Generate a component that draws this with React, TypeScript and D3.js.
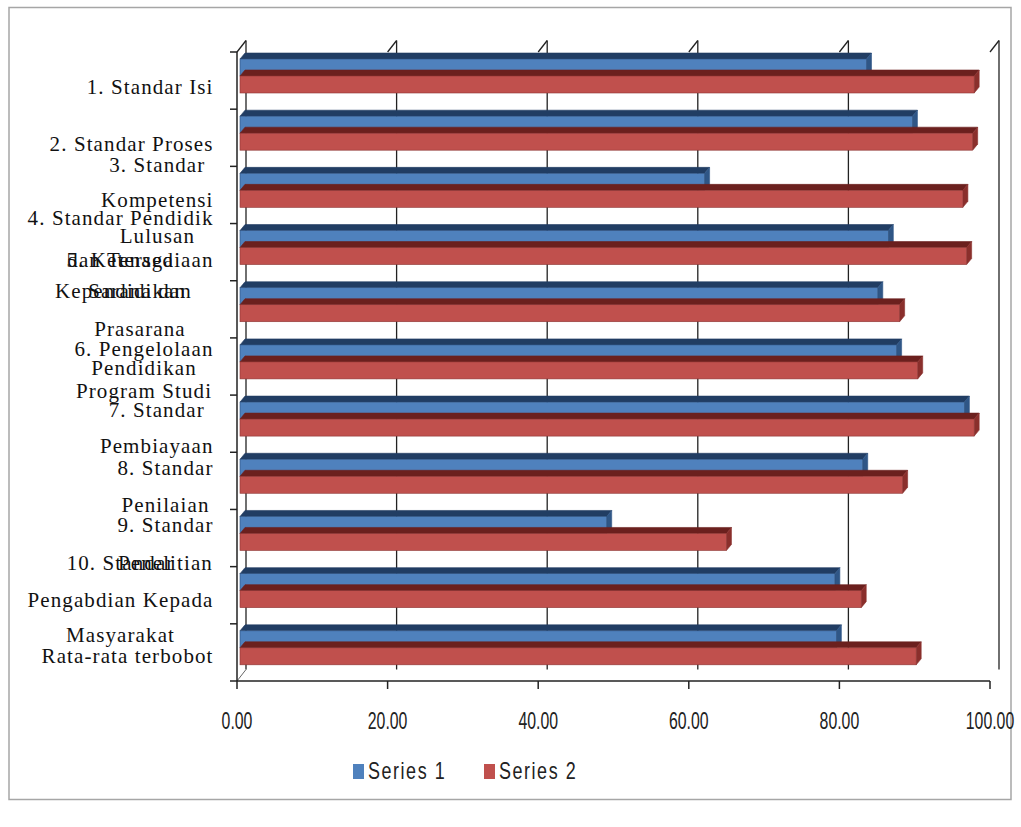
import React from "react";
import * as d3 from "d3";

// ---------- data ----------
const categoryLines: string[][] = [
  ["1. Standar Isi"],
  ["2. Standar Proses"],
  ["3. Standar", "Kompetensi", "Lulusan"],
  ["4. Standar Pendidik", "dan Tenaga", "Kependidikan"],
  ["5. Ketersediaan", "Sarana dan", "Prasarana"],
  ["6. Pengelolaan", "Pendidikan", "Program Studi"],
  ["7. Standar", "Pembiayaan"],
  ["8. Standar", "Penilaian"],
  ["9. Standar", "Penelitian"],
  ["10. Standar", "Pengabdian Kepada", "Masyarakat"],
  ["Rata-rata terbobot"],
];
const series1: number[] = [83.2, 89.3, 61.7, 86.1, 84.7, 87.2, 96.2, 82.7, 48.7, 79.0, 79.2];
const series2: number[] = [97.5, 97.3, 96.0, 96.5, 87.6, 90.0, 97.5, 88.0, 64.6, 82.5, 89.8];
const seriesNames: string[] = ["Series 1", "Series 2"];
const tickValues: number[] = [0, 20, 40, 60, 80, 100];

// ---------- layout (label line baselines relative to band centre) ----------
const labelLineOffsets: number[][] = [
  [13.4],
  [12.9],
  [-23.3, 11.7, 47.8],
  [-27.2, 14.8, 45.8],
  [-42.4, -11.4, 26.6],
  [-10.6, 8.4, 31.4],
  [-6.8, 29.2],
  [-6, 30.7],
  [-6.5, 31.8],
  [-25.4, 11.3, 46.3],
  [10.4],
];

const W = 1021;
const H = 827;
const LABEL_FONT = "'Liberation Serif', serif";
const LABEL_SIZE = 21;
const LABEL_SPACING = 1.1;
const TICK_FONT = "'Liberation Sans', sans-serif";

const colors = {
  s1: { front: "#4F81BD", top: "#213D63", side: "#2F5686", stroke: "#2C4F7C" },
  s2: { front: "#C0504D", top: "#6B201E", side: "#8A2F2C", stroke: "#8C3533" },
};

let measureCtx: CanvasRenderingContext2D | null = null;
function measure(text: string): number {
  if (!measureCtx) {
    const c = document.createElement("canvas");
    measureCtx = c.getContext("2d");
  }
  if (!measureCtx) return text.length * 9;
  measureCtx.font = `${LABEL_SIZE}px ${LABEL_FONT}`;
  return measureCtx.measureText(text).width + LABEL_SPACING * (text.length - 1);
}

export default function App() {
  const plotTop = 52;
  const plotBottom = 681;
  const depth = { dx: 9, dy: -11.5 };
  const barDepth = { dx: 5, dy: -6 };

  const xFront = d3.scaleLinear().domain([0, 100]).range([237, 990]);
  const xBack = d3.scaleLinear().domain([0, 100]).range([237 + depth.dx, 990 + depth.dx]);
  const xBar = d3.scaleLinear().domain([0, 100]).range([240, 993]);

  const idx = categoryLines.map((_, i) => String(i));
  const yBand = d3.scaleBand<string>().domain(idx).range([plotTop, plotBottom]).padding(0);
  const ySeries = d3.scaleBand<string>().domain(["s1", "s2"]).range([7, 41]).padding(0);

  const labelRight = 213;

  const bars: React.ReactNode[] = [];
  categoryLines.forEach((_, i) => {
    const vals = [series1[i], series2[i]];
    (["s1", "s2"] as const).forEach((s, k) => {
      const v = vals[k];
      const c = colors[s];
      const x0 = xBar(0);
      const x1 = xBar(v);
      const y0 = (yBand(String(i)) as number) + (ySeries(s) as number);
      const h = ySeries.bandwidth();
      const { dx, dy } = barDepth;
      const top = `${x0},${y0} ${x1},${y0} ${x1 + dx},${y0 + dy} ${x0 + dx},${y0 + dy}`;
      const side = `${x1},${y0} ${x1 + dx},${y0 + dy} ${x1 + dx},${y0 + h + dy} ${x1},${y0 + h}`;
      bars.push(
        <g key={`${i}-${s}`}>
          <polygon points={top} fill={c.top} stroke={c.top} strokeWidth={0.6} />
          <polygon points={side} fill={c.side} stroke={c.side} strokeWidth={0.6} />
          <rect x={x0} y={y0} width={x1 - x0} height={h} fill={c.front} stroke={c.stroke} strokeWidth={0.6} />
        </g>
      );
    });
  });

  const catTicks = [...idx.map((d) => yBand(d) as number), plotBottom];

  return (
    <svg
      width={W}
      height={H}
      viewBox={`0 0 ${W} ${H}`}
      style={{ position: "absolute", left: 0, top: 0, background: "#fff" }}
    >
      <rect x={0} y={0} width={W} height={H} fill="#fff" />
      <rect x={9} y={7.5} width={1002} height={792} fill="none" stroke="#A6A6A6" strokeWidth={1.5} />

      {/* back wall gridlines */}
      {tickValues.map((t) => (
        <g key={`g${t}`}>
          <line
            x1={xBack(t)}
            x2={xBack(t)}
            y1={plotTop + depth.dy}
            y2={plotBottom + depth.dy}
            stroke="#222"
            strokeWidth={1.3}
          />
          <line
            x1={xFront(t)}
            x2={xBack(t)}
            y1={plotTop}
            y2={plotTop + depth.dy}
            stroke="#222"
            strokeWidth={1.3}
          />
        </g>
      ))}
      {/* floor-left diagonal */}
      <line
        x1={xFront(0)}
        x2={xBack(0)}
        y1={plotBottom}
        y2={plotBottom + depth.dy}
        stroke="#666"
        strokeWidth={1}
      />

      {bars}

      {/* category axis */}
      <line x1={xFront(0)} x2={xFront(0)} y1={plotTop} y2={plotBottom} stroke="#222" strokeWidth={1.5} />
      {catTicks.map((y, i) => (
        <line key={`ct${i}`} x1={xFront(0) - 7} x2={xFront(0)} y1={y} y2={y} stroke="#222" strokeWidth={1.5} />
      ))}

      {/* value axis */}
      <line x1={xFront(0)} x2={xFront(100)} y1={plotBottom} y2={plotBottom} stroke="#222" strokeWidth={1.6} />
      {tickValues.map((t) => (
        <g key={`vt${t}`}>
          <line x1={xFront(t)} x2={xFront(t)} y1={plotBottom} y2={plotBottom + 8} stroke="#222" strokeWidth={1.5} />
          <text
            transform={`translate(${xFront(t)},${plotBottom + 48}) scale(0.66,1)`}
            textAnchor="middle"
            fontFamily={TICK_FONT}
            fontSize={24}
            fill="#222"
          >
            {t.toFixed(2)}
          </text>
        </g>
      ))}

      {/* category labels */}
      {categoryLines.map((lines, i) => {
        const center = (yBand(String(i)) as number) + yBand.bandwidth() / 2;
        const maxW = Math.max(...lines.map(measure));
        const cx = labelRight - maxW / 2;
        return (
          <g key={`lab${i}`}>
            {lines.map((ln, j) => (
              <text
                key={j}
                x={cx}
                y={center + labelLineOffsets[i][j]}
                textAnchor="middle"
                fontFamily={LABEL_FONT}
                fontSize={LABEL_SIZE}
                letterSpacing={LABEL_SPACING}
                fill="#111"
              >
                {ln}
              </text>
            ))}
          </g>
        );
      })}

      {/* legend */}
      {seriesNames.map((name, k) => {
        const lx = k === 0 ? 353 : 484;
        const c = k === 0 ? colors.s1 : colors.s2;
        return (
          <g key={name}>
            <rect x={lx} y={764} width={11} height={15} fill={c.front} />
            <text
              transform={`translate(${lx + 15},${779}) scale(0.78,1)`}
              fontFamily={TICK_FONT}
              fontSize={23}
              letterSpacing={2}
              fill="#222"
            >
              {name}
            </text>
          </g>
        );
      })}
    </svg>
  );
}
